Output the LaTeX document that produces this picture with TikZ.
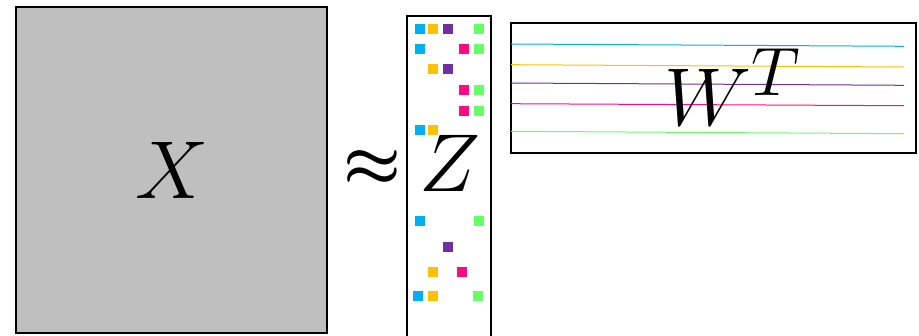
\documentclass[tikz,border=0pt]{standalone}
\definecolor{zcyan}{HTML}{00B0F0}
\definecolor{zorange}{HTML}{FFC000}
\definecolor{zpurple}{HTML}{7030A0}
\definecolor{zpink}{HTML}{FF0A84}
\definecolor{zgreen}{HTML}{66FF66}
\tikzset{
  matbox/.style={draw, line width=2pt, inner sep=0pt},
  cell/.style={fill=#1, minimum size=10pt, inner sep=0pt},
  bigmath/.style={font=\Huge, scale=3.3, inner sep=0pt}
}
\begin{document}
\begin{tikzpicture}[x=1pt, y=-1pt]
\path[use as bounding box] (0,0) rectangle (919,335);
% X, the data matrix
\node[matbox, fill=black!25, minimum width=311pt, minimum height=326pt] (X) at (171.5,170) {};
\node[bigmath] (Xlab) at (172,170.5) {$X$};
\node[font=\Huge\boldmath, scale=2.6, inner sep=0pt] (approx) at (372.5,168) {$\approx$};
% Z, the sparse codes
\draw[line width=1.5pt] (407,345) -- (407,16) -- (491,16) -- (491,345);
\node[bigmath] (Zlab) at (449.5,163.5) {$Z$};
\foreach \x/\y/\c [count=\i] in {419.5/29/zcyan, 433/29/zorange, 448/29/zpurple, 479/29/zgreen,
  419.5/49/zcyan, 464/49/zpink, 479/49/zgreen,
  433/69/zorange, 448/69/zpurple,
  464/90/zpink, 479/90/zgreen,
  464/110.7/zpink, 479/110.7/zgreen,
  419.5/130/zcyan, 433/130/zorange,
  419.5/221/zcyan, 479/221/zgreen,
  448/247/zpurple,
  433/272/zorange, 461.7/272/zpink,
  418/296/zcyan, 433/296/zorange, 477.7/296/zgreen}
  \node[cell=\c] (z\i) at (\x,\y) {};
% W^T, the dictionary
\node[matbox, minimum width=405pt, minimum height=130pt] (W) at (713.5,88) {};
\draw[zcyan, line width=1pt] (511,44) -- (904,46.3);
\draw[zorange, line width=1pt] (511,64.7) -- (904,67);
\draw[zpurple, line width=1pt] (511,83) -- (904,85.3);
\draw[zpink, line width=1pt] (511,103.7) -- (904,105.7);
\draw[zgreen, line width=1pt] (511,131.3) -- (904,133.7);
\node[bigmath, anchor=base] (Wlab) at (733,125) {$W^T$};
\end{tikzpicture}
\end{document}
